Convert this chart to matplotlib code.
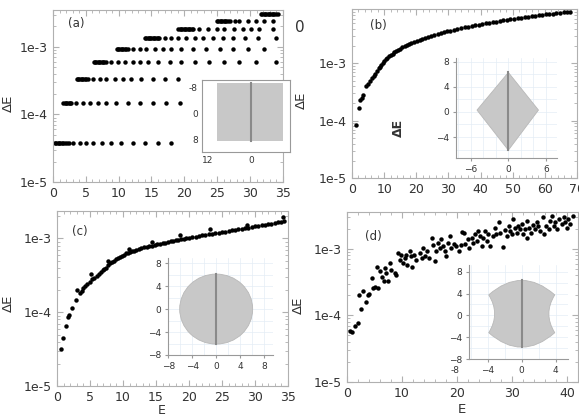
import matplotlib
matplotlib.use('Agg')
import matplotlib.pyplot as plt
import numpy as np
from matplotlib.patches import Polygon, Circle, Rectangle, PathPatch
from matplotlib.path import Path
from matplotlib.ticker import (AutoMinorLocator, FixedLocator, LogLocator,
                               NullFormatter, FuncFormatter, MultipleLocator)

# ---- panel (a): levels and the E values found on each level
a_levels = [3.77e-5, 1.47e-4, 3.33e-4, 5.93e-4, 9.24e-4, 1.34e-3, 1.82e-3, 2.37e-3, 3.08e-3]
a_E1 = [0.3, 0.5, 0.7, 0.9, 1.1, 1.3, 1.5, 1.8, 2.1, 2.4, 3.0, 4.1, 5.0, 6.1, 7.4, 8.9,
        10.4, 12.2, 14.0, 16.0, 18.0]
a_E2 = [1.6, 1.8, 2.0, 2.2, 2.4, 2.6, 2.8, 3.55, 4.5, 5.6, 6.85, 8.1, 9.6, 11.4, 13.2,
        15.2, 17.25, 19.3]
a_E3 = [3.6, 3.8, 4.0, 4.2, 4.4, 4.6, 4.8, 5.0, 5.3, 6.1, 7.1, 8.1, 9.4, 10.65, 11.9,
        13.4, 15.2, 17.0, 19.0]
a_E4 = [6.2, 6.4, 6.6, 6.8, 7.0, 7.2, 7.4, 7.6, 7.8, 8.1, 8.9, 9.9, 10.9, 12.2, 13.2,
        14.5, 16.0, 17.8, 19.5, 21.6, 23.8, 26.1, 28.4, 30.9, 33.9]
a_E5 = [9.7, 9.9, 10.1, 10.3, 10.5, 10.7, 10.9, 11.1, 11.4, 12.2, 13.2, 14.2, 15.5,
        16.7, 18.0, 19.5, 21.3, 23.3, 25.4, 27.4, 29.7, 32.2]
a_E6 = [14.0, 14.2, 14.4, 14.6, 14.8, 15.0, 15.2, 15.4, 15.6, 15.8, 16.0, 16.2, 17.0,
        18.0, 19.0, 20.3, 21.6, 22.8, 24.4, 25.9, 27.4, 29.2, 31.2, 34.0]
a_E7 = [19.1, 19.3, 19.5, 19.7, 19.9, 20.1, 20.3, 20.5, 20.7, 20.9, 21.1, 21.3, 22.2,
        23.6, 24.9, 26.1, 27.6, 28.9, 30.2, 31.4, 33.5]
a_E8 = [25.0, 25.2, 25.4, 25.6, 25.8, 26.0, 26.2, 26.4, 26.6, 26.9, 27.7, 28.4, 29.7,
        30.95, 32.2, 33.5]
a_E9 = [31.7, 31.9, 32.1, 32.3, 32.5, 32.7, 32.9, 33.1, 33.3, 33.5, 33.7, 33.9, 34.2]
a_rows = [a_E1, a_E2, a_E3, a_E4, a_E5, a_E6, a_E7, a_E8, a_E9]

# ---- panel (b)
b_E = [1.2, 2.1, 2.6, 3.0, 3.4, 4.5, 4.9, 5.7, 6.2, 6.7, 7.3, 7.8,
       8.3, 8.7, 9.1, 9.5, 10.0, 10.5, 11.0, 11.5, 12.0, 12.6, 13.2, 13.8, 14.4, 15.0,
       15.7, 16.4, 17.1, 17.8, 18.5, 19.3, 20.1, 21.0, 21.9, 22.8, 23.7, 24.6, 25.6,
       26.6, 27.6, 28.6, 29.6, 30.6, 31.7, 32.8, 33.9, 35.0, 36.1, 37.2, 38.3, 39.4,
       40.5, 41.6, 42.7, 43.8, 44.9, 46.0, 47.1, 48.2, 49.3, 50.4, 51.5, 52.6, 53.7,
       54.8, 55.9, 57.0, 58.1, 59.2, 60.3, 61.4, 62.5, 63.6, 64.7, 65.8, 66.9, 67.8]
b_dE = [8.5e-5, 1.65e-4, 2.3e-4, 2.5e-4, 2.8e-4, 4.0e-4, 4.4e-4, 5.0e-4, 5.5e-4, 6.0e-4,
        6.6e-4, 7.4e-4,
        8.2e-4, 8.8e-4, 9.4e-4, 1.01e-3, 1.09e-3, 1.17e-3, 1.25e-3, 1.33e-3, 1.40e-3,
        1.48e-3, 1.56e-3, 1.65e-3, 1.73e-3, 1.81e-3, 1.90e-3, 2.00e-3, 2.09e-3, 2.18e-3,
        2.27e-3, 2.37e-3, 2.47e-3, 2.58e-3, 2.69e-3, 2.80e-3, 2.91e-3, 3.02e-3, 3.14e-3,
        3.25e-3, 3.37e-3, 3.48e-3, 3.60e-3, 3.71e-3, 3.84e-3, 3.96e-3, 4.09e-3, 4.22e-3,
        4.34e-3, 4.47e-3, 4.60e-3, 4.72e-3, 4.85e-3, 4.97e-3, 5.10e-3, 5.23e-3, 5.35e-3,
        5.48e-3, 5.60e-3, 5.73e-3, 5.85e-3, 5.98e-3, 6.11e-3, 6.23e-3, 6.36e-3, 6.48e-3,
        6.61e-3, 6.74e-3, 6.86e-3, 6.99e-3, 7.11e-3, 7.24e-3, 7.37e-3, 7.49e-3, 7.62e-3,
        7.74e-3, 7.87e-3, 7.97e-3]

# ---- panel (c)
c_E = [0.6, 0.9, 1.3, 1.7, 1.8, 2.3, 2.9, 3.1, 3.5, 3.8, 4.0, 4.3, 4.6, 5.0, 5.15, 5.3,
       5.6, 6.0, 6.3, 6.6, 6.9, 7.2, 7.5, 7.7, 7.8, 8.1, 8.4, 8.7, 9.0, 9.3, 9.6, 9.9,
       10.2, 10.5, 10.8, 10.9, 11.1, 11.4, 11.7, 12.0, 12.4, 12.8, 13.2, 13.6, 14.0,
       14.4, 14.4, 14.8, 15.2, 15.6, 16.0, 16.4, 16.8, 17.2, 17.6, 18.0, 18.4, 18.7,
       18.8, 19.2, 19.6, 20.0, 20.5, 21.0, 21.5, 22.0, 22.5, 23.0, 23.2, 23.5, 24.0,
       24.5, 25.0, 25.5, 26.0, 26.5, 27.0, 27.5, 28.0, 28.5, 28.8, 29.0, 29.5, 30.0,
       30.5, 31.0, 31.5, 32.0, 32.5, 33.0, 33.5, 34.0, 34.3, 34.4]
c_dE = [3.2e-5, 4.5e-5, 6.5e-5, 8.6e-5, 9.2e-5, 1.13e-4, 1.48e-4, 2.0e-4, 1.85e-4,
        1.95e-4, 2.1e-4, 2.3e-4, 2.45e-4, 2.6e-4, 3.3e-4, 2.8e-4, 2.9e-4, 3.1e-4,
        3.3e-4, 3.5e-4, 3.7e-4, 3.85e-4, 4.0e-4, 5.0e-4, 4.3e-4, 4.6e-4, 4.8e-4, 5.0e-4,
        5.25e-4, 5.45e-4, 5.65e-4, 5.85e-4, 6.05e-4, 6.25e-4, 6.4e-4, 7.1e-4, 6.55e-4,
        6.7e-4, 6.85e-4, 7.0e-4, 7.2e-4, 7.4e-4, 7.55e-4, 7.7e-4, 7.85e-4, 8.0e-4,
        9.0e-4, 8.15e-4, 8.3e-4, 8.45e-4, 8.6e-4, 8.8e-4, 8.95e-4, 9.1e-4, 9.25e-4,
        9.4e-4, 9.6e-4, 1.1e-3, 9.75e-4, 9.9e-4, 1.0e-3, 1.02e-3, 1.04e-3, 1.06e-3,
        1.08e-3, 1.10e-3, 1.12e-3, 1.14e-3, 1.36e-3, 1.16e-3, 1.18e-3, 1.20e-3, 1.22e-3,
        1.24e-3, 1.26e-3, 1.28e-3, 1.31e-3, 1.33e-3, 1.35e-3, 1.37e-3, 1.5e-3, 1.40e-3,
        1.42e-3, 1.45e-3, 1.47e-3, 1.50e-3, 1.53e-3, 1.56e-3, 1.59e-3, 1.62e-3, 1.65e-3,
        1.69e-3, 1.95e-3, 1.73e-3]

# ---- panel (d)
d_E = [0.6, 0.97, 1.4, 2.0, 2.3, 2.6, 3.0, 3.4, 3.8, 4.1, 4.6, 4.7, 5.2, 5.5, 5.65, 6.0,
       6.4, 6.7, 6.9, 7.2, 7.5, 7.8, 8.1, 8.7, 9.0, 9.3, 9.6, 9.9, 10.2, 10.5, 10.8,
       10.9, 11.4, 11.7, 11.9, 12.3, 12.6, 13.3, 13.6, 13.9, 14.2, 14.5, 15.0, 15.4,
       15.7, 16.0, 16.2, 16.6, 16.9, 17.2, 17.5, 17.8, 18.1, 18.4, 18.7, 19.0, 19.4,
       19.9, 20.4, 20.7, 21.0, 21.3, 21.5, 22.1, 22.2, 22.7, 23.0, 23.3, 23.6, 23.9,
       24.2, 24.5, 24.8, 25.1, 25.4, 25.7, 26.0, 26.6, 26.9, 27.2, 27.7, 27.9, 28.4,
       28.7, 29.1, 29.4, 29.7, 30.0, 30.3, 30.6, 30.9, 31.2, 31.5, 31.8, 32.1, 32.4,
       32.7, 32.8, 33.2, 33.4, 33.8, 34.2, 34.5, 34.8, 35.1, 35.6, 35.9, 36.2, 36.7,
       37.0, 37.3, 37.6, 37.9, 38.2, 38.5, 39.1, 39.4, 39.7, 40.0, 40.3, 40.6, 41.1]
d_dE = [5.9e-5, 5.7e-5, 7.0e-5, 7.7e-5, 2.0e-4, 1.26e-4, 2.3e-4, 1.6e-4, 2.06e-4, 2.1e-4,
        3.6e-4, 2.6e-4, 2.7e-4, 5.3e-4, 2.6e-4, 4.6e-4, 3.8e-4, 3.3e-4, 5.1e-4, 4.3e-4,
        3.3e-4, 6.1e-4, 4.8e-4, 4.3e-4, 4.1e-4, 8.7e-4, 6.9e-4, 8.2e-4, 6.1e-4, 7.3e-4,
        8.2e-4, 5.8e-4, 9.2e-4, 7.7e-4, 5.4e-4, 8.2e-4, 6.9e-4, 8.7e-4, 7.3e-4, 1.04e-3,
        7.7e-4, 9.2e-4, 7.3e-4, 1.47e-3, 1.16e-3, 6.5e-4, 9.2e-4, 1.23e-3, 1.04e-3,
        1.39e-3, 1.1e-3, 9.2e-4, 7.7e-4, 1.23e-3, 1.56e-3, 1.04e-3, 1.19e-3, 1.1e-3,
        9.2e-4, 1.16e-3, 1.8e-3, 1.75e-3, 1.19e-3, 1.39e-3, 1.04e-3, 1.47e-3, 1.23e-3,
        1.69e-3, 1.31e-3, 1.86e-3, 1.56e-3, 1.1e-3, 1.47e-3, 1.86e-3, 1.31e-3, 1.65e-3,
        1.1e-3, 1.56e-3, 2.09e-3, 1.69e-3, 2.49e-3, 1.75e-3, 1.07e-3, 1.9e-3, 1.56e-3,
        2.21e-3, 1.86e-3, 1.65e-3, 2.8e-3, 2.09e-3, 1.75e-3, 2.21e-3, 1.97e-3, 2.35e-3,
        1.69e-3, 1.97e-3, 2.64e-3, 1.47e-3, 2.09e-3, 1.75e-3, 2.29e-3, 1.97e-3, 2.49e-3,
        2.21e-3, 1.86e-3, 2.96e-3, 1.69e-3, 2.21e-3, 1.97e-3, 2.64e-3, 3.14e-3, 2.21e-3,
        2.49e-3, 1.97e-3, 2.8e-3, 2.35e-3, 2.96e-3, 2.49e-3, 2.09e-3, 2.8e-3, 2.35e-3,
        3.14e-3]

# ---- billiard shapes for the insets
rect_a = (-9.5, -9.4, 18.4, 17.9)          # x0, y0, width, height
diamond_b = [(0, 6.3), (4.8, 0.3), (0, -6.1), (-5.0, 0.3)]
circle_c = (0.0, 0.0, 6.1)                  # cx, cy, r
shape_d = [(-3.9, 3.75), (0, 9.05), (3.9, 3.75), (2.5, 0.3), (3.9, -3.15),
           (0, -8.45), (-3.9, -3.15), (-2.5, 0.3), (-3.9, 3.75)]

SPINE = '#b0b0b0'
TXT = '#333333'
FILL = '#c8c8c8'
MID = '#8a8a8a'

fig = plt.figure(figsize=(5.79, 4.17), dpi=100)


def log_fmt(v, p):
    return '1e%d' % round(np.log10(v))


def main_axes(rect, xlim, ylim, xticks):
    ax = fig.add_axes(rect)
    ax.set_yscale('log')
    ax.set_xlim(xlim)
    ax.set_ylim(ylim)
    ax.set_xticks(xticks)
    ax.xaxis.set_minor_locator(AutoMinorLocator(5))
    ax.yaxis.set_major_locator(FixedLocator([1e-5, 1e-4, 1e-3]))
    ax.yaxis.set_major_formatter(FuncFormatter(log_fmt))
    ax.yaxis.set_minor_locator(LogLocator(subs=np.arange(2, 10)))
    ax.yaxis.set_minor_formatter(NullFormatter())
    ax.tick_params(which='both', direction='in', top=True, right=True, color=SPINE,
                   labelcolor=TXT, labelsize=9, pad=3.5)
    ax.tick_params(which='major', length=4)
    ax.tick_params(which='minor', length=2)
    for s in ax.spines.values():
        s.set_color(SPINE)
    return ax


def inset_axes(rect, xlim, ylim, xticks, yticks, box=False, grid=True):
    ax = fig.add_axes(rect)
    ax.set_xlim(xlim)
    ax.set_ylim(ylim)
    ax.set_xticks(xticks)
    ax.set_yticks(yticks)
    ax.tick_params(length=2, color='#999999', labelcolor=TXT, labelsize=6.5, pad=3)
    for name, s in ax.spines.items():
        s.set_color('#999999')
        if not box and name in ('top', 'right'):
            s.set_visible(False)
    if grid:
        ax.xaxis.set_minor_locator(MultipleLocator(2))
        ax.yaxis.set_minor_locator(MultipleLocator(2))
        ax.tick_params(which='minor', length=0)
        ax.grid(True, which='both', color='#e4edf5', lw=0.5)
        ax.set_axisbelow(True)
    return ax


# (a)
axa = main_axes([0.0915, 0.5635, 0.397, 0.4125], (0, 35), (1e-5, 3.5e-3), range(0, 36, 5))
for lev, row in zip(a_levels, a_rows):
    axa.plot(row, [lev] * len(row), 'o', color='black', ms=3.2, mew=0)
axa.set_ylabel('ΔE', fontsize=9.5, color=TXT)
axa.yaxis.set_label_coords(-0.165, 0.46)
axa.text(0.065, 0.919, '(a)', transform=axa.transAxes, fontsize=8.5, color=TXT, va='center')

# (b)
axb = main_axes([0.608, 0.573, 0.3886, 0.405], (0, 70), (1e-5, 8.8e-3), range(0, 71, 10))
axb.plot(b_E, b_dE, 'o', color='black', ms=3.2, mew=0)
axb.set_ylabel('ΔE', fontsize=9.5, color=TXT)
axb.yaxis.set_label_coords(-0.196, 0.46)
axb.text(0.08, 0.905, '(b)', transform=axb.transAxes, fontsize=8.5, color=TXT, va='center')

# (c)
axc = main_axes([0.0984, 0.074, 0.399, 0.42], (0, 35), (1e-5, 2.35e-3), range(0, 36, 5))
axc.plot(c_E, c_dE, 'o', color='black', ms=3.2, mew=0)
axc.set_ylabel('ΔE', fontsize=9.5, color=TXT)
axc.yaxis.set_label_coords(-0.18, 0.475)
axc.set_xlabel('E', fontsize=9, color=TXT)
axc.xaxis.set_label_coords(0.455, -0.1)
axc.text(0.065, 0.883, '(c)', transform=axc.transAxes, fontsize=8.5, color=TXT, va='center')

# (d)
axd = main_axes([0.599, 0.084, 0.399, 0.408], (0, 42), (1e-5, 3.6e-3), range(0, 41, 10))
axd.plot(d_E, d_dE, 'o', color='black', ms=3.2, mew=0)
axd.set_ylabel('ΔE', fontsize=9.5, color=TXT)
axd.yaxis.set_label_coords(-0.18, 0.45)
axd.set_xlabel('E', fontsize=9.5, color=TXT)
axd.xaxis.set_label_coords(0.498, -0.125)
axd.text(0.078, 0.853, '(d)', transform=axd.transAxes, fontsize=8.5, color=TXT, va='center')

# inset (a): rectangle
ia = inset_axes([0.3489, 0.6355, 0.152, 0.1727], (-13.7, 10.9), (11.8, -10.3),
                [-12, 0], [-8, 0, 8], box=True, grid=False)
ia.set_xticklabels(['12', '0'])
ia.set_yticklabels(['-8', '0', '8'])
ia.tick_params(length=0)
ia.add_patch(Rectangle(rect_a[:2], rect_a[2], rect_a[3], facecolor=FILL, edgecolor='none'))
ia.plot([0, 0], [rect_a[1], rect_a[1] + rect_a[3]], color=MID, lw=1.5)

# inset (b): diamond
ib = inset_axes([0.787, 0.6218, 0.1744, 0.239], (-8.4, 7.7), (-7.3, 8.6),
                [-6, 0, 6], [-4, 0, 4, 8])
ib.add_patch(Polygon(diamond_b, closed=True, facecolor=FILL, edgecolor='#b8b8b8', lw=0.6))
ib.plot([0, 0], [diamond_b[0][1], diamond_b[2][1]], color=MID, lw=1.5)

# inset (c): circle
ic = inset_axes([0.2907, 0.1487, 0.1808, 0.2326], (-8, 9.5), (-8, 8.9),
                [-8, -4, 0, 4, 8], [-8, -4, 0, 4, 8])
ic.add_patch(Circle(circle_c[:2], circle_c[2], facecolor=FILL, edgecolor='#b8b8b8', lw=0.6))
ic.plot([0, 0], [circle_c[1] - circle_c[2], circle_c[1] + circle_c[2]], color=MID, lw=1.5)

# inset (d): circle with concave sides
idd = inset_axes([0.8106, 0.1384, 0.1705, 0.2261], (-6.19, 5.47), (-8, 9.2),
                 [-4, 0, 4], [-8, -4, 0, 4, 8])
codes = [Path.MOVETO] + [Path.CURVE3] * 8
idd.add_patch(PathPatch(Path(shape_d, codes), facecolor=FILL, edgecolor='#b8b8b8', lw=0.6))
idd.plot([0, 0], [6.4, -5.8], color=MID, lw=1.5)
idd.text(-7.85, -0.075, '-8', transform=idd.get_xaxis_transform(), fontsize=6.5,
         color=TXT, ha='center', va='top', clip_on=False)

# stray labels present in the original figure
fig.text(300 / 579, 1 - 28 / 417, '0', fontsize=11, color=TXT, ha='center', va='center')
fig.text(398 / 579, 1 - 128 / 417, 'ΔE', fontsize=9, color=TXT, fontweight='bold',
         rotation=90, ha='center', va='center')

fig.savefig('out.png', dpi=100)
